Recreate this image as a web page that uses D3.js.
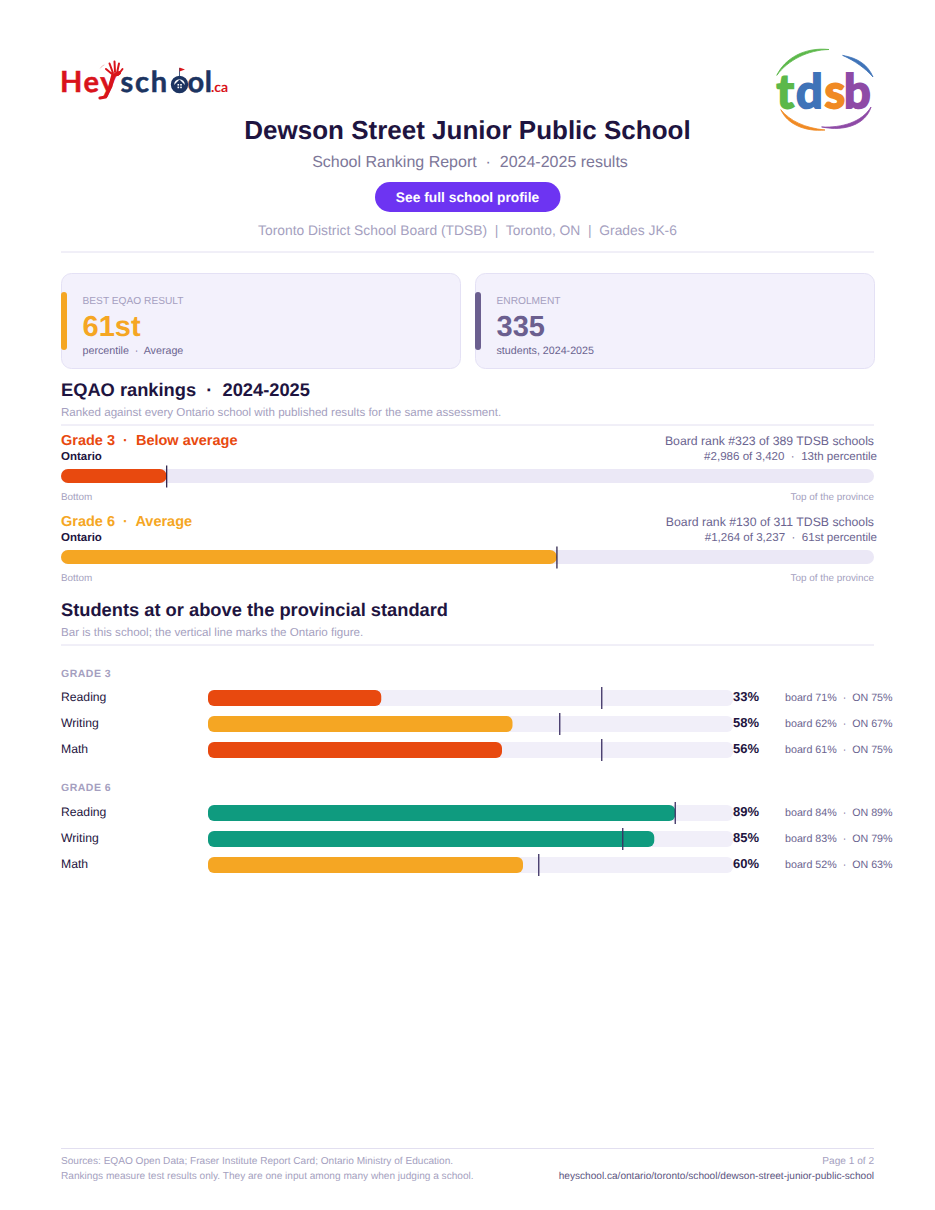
<!DOCTYPE html>
<html><head><meta charset="utf-8">
<script src="https://cdn.jsdelivr.net/npm/d3@7"></script>
<style>html,body{margin:0;padding:0;background:#fff}svg{display:block;font-family:"Liberation Sans",Arial,sans-serif;text-rendering:geometricPrecision}</style>
</head><body><div id="c"></div>
<script>
const schoolName="Dewson Street Junior Public School";
const rankGrades=["Grade 3","Grade 6"];
const rankBands=["Below average","Average"];
const rankPercentiles=[13,61];
const rankBoard=["Board rank #323 of 389 TDSB schools","Board rank #130 of 311 TDSB schools"];
const rankProvince=["#2,986 of 3,420  ·  13th percentile","#1,264 of 3,237  ·  61st percentile"];
const subjects=["Reading","Writing","Math"];
const grade3School=[33,58,56];
const grade3Board=[71,62,61];
const grade3Ontario=[75,67,75];
const grade6School=[89,85,60];
const grade6Board=[84,83,52];
const grade6Ontario=[89,79,63];

const RED="#e8490f",AMB="#f5a623",GRN="#0f9b7f",INK="#1e1440",MUT="#a59fc0",MID="#6b6490",RULE="#e2dff0";
const svg=d3.select("#c").append("svg").attr("width",935).attr("height",1210);
function T(x,y,s,size,fill,o={}){return svg.append("text").attr("x",x).attr("y",y).text(s)
  .attr("font-size",size).attr("fill",fill).attr("font-weight",o.w||"normal").attr("text-anchor",o.a||"start")
  .style("white-space","pre").attr("font-family",o.f||null).attr("letter-spacing",o.ls||null);}
function R(x,y,w,h,r,fill,st){const e=svg.append("rect").attr("x",x).attr("y",y).attr("width",w).attr("height",h).attr("rx",r).attr("fill",fill);
  if(st)e.attr("stroke",st);return e;}
function L(x1,y1,x2,y2,c,w){svg.append("line").attr("x1",x1).attr("y1",y1).attr("x2",x2).attr("y2",y2).attr("stroke",c).attr("stroke-width",w);}
function P(d,o){const e=svg.append("path").attr("d",d).attr("fill",o.fill||"none");if(o.stroke)e.attr("stroke",o.stroke).attr("stroke-width",o.w).attr("stroke-linecap","round").attr("stroke-linejoin","round");return e;}

/* HeySchool logo */
const NAVY="#1c3461",HRED="#d9141b";
function logoT(x,s,c,ls){T(x,92,s,29,c,{w:"bold",f:"Lato",ls:ls}).attr("stroke",c).attr("stroke-width",.5);}
logoT(60,"Hey",HRED,"1.6");
logoT(120.5,"sch",NAVY,"1.8");
logoT(187.5,"ol",NAVY,"0.6");
T(211,92,".ca",14,HRED,{f:"Lato",w:"bold"});
svg.append("circle").attr("cx",179.5).attr("cy",84.5).attr("r",7).attr("fill","none").attr("stroke",NAVY).attr("stroke-width",3.4);
P("M174 85 L179.5 79.5 L185 85 L185 90 L174 90 Z",{fill:NAVY});
R(177.5,84,1.6,1.6,0,"#fff");R(180.2,84,1.6,1.6,0,"#fff");R(177.5,86.6,1.6,1.6,0,"#fff");R(180.2,86.6,1.6,1.6,0,"#fff");
L(179.5,79,179.5,68,NAVY,.8);
P("M179.5 67.5 L185 69.5 L179.5 71.5 Z",{fill:HRED});
P("M111 86 L105.5 97 L100 98",{stroke:HRED,w:3.2});
P("M111 84 L113 76 L119 73",{stroke:HRED,w:4});
P("M112 74 L106 69 M113 73 L109.5 63.5 M115 72 L114.5 61.5 M117 73 L119 63.5 M118 75 L122.5 69",{stroke:HRED,w:2});
P("M100.5 68 Q102 65.5 104 65",{stroke:"#e8a0a0",w:.7});

/* TDSB logo */
const logoY=107.5;
[["t",776.5,"#5cb84a"],["d",796,"#3f73b8"],["s",824.5,"#f08a24"],["b",844,"#8e4aa6"]].forEach(d=>{
  T(d[1],logoY,d[0],47,d[2],{w:"bold",f:"Lato"}).attr("stroke",d[2]).attr("stroke-width",2);
});
P("M777 75 C785 58 805 47 829 49.5 C808 50 788 60 777 75 Z",{fill:"#5cb84a",stroke:"#5cb84a",w:.8});
P("M843 55.5 C858 58 868 65 873 77 C865 68 855 61 843 55.5 Z",{fill:"#3f73b8",stroke:"#3f73b8",w:.8});
P("M781 110 C790 121 805 128 825 130 C805 132 787 124 781 110 Z",{fill:"#f08a24",stroke:"#f08a24",w:.8});
P("M822 127 C842 128 862 122 871 107 C866 124 845 132 822 127 Z",{fill:"#8e4aa6",stroke:"#8e4aa6",w:.8});

/* Header */
T(467.5,139,schoolName,26,INK,{w:"bold",a:"middle"});
T(470,167,"School Ranking Report  ·  2024-2025 results",16,"#7d7799",{a:"middle"});
R(375,182,185.5,30,15,"#6d34f2");
T(467.5,202,"See full school profile",13.8,"#fff",{w:"bold",a:"middle"});
T(467.5,235,"Toronto District School Board (TDSB)  |  Toronto, ON  |  Grades JK-6",13.83,MUT,{a:"middle"});
L(61,252,874,252,RULE,1);

/* Cards */
function card(x,w,col,lab,val,sub){
  R(x+.5,273.5,w,95,10,"#f3f1fc","#e4e1f5");
  R(x,292,6,58,3,col);
  T(x+21.5,304,lab,10.2,MUT);
  T(x+21.5,336,val,29,col,{w:"bold"});
  T(x+21.5,354,sub,10.7,MID);
}
card(61,399,AMB,"BEST EQAO RESULT","61st","percentile  ·  Average");
card(475,399,"#6b5f8f","ENROLMENT","335","students, 2024-2025");

/* Rankings */
T(61,396,"EQAO rankings  ·  2024-2025",18.3,INK,{w:"bold"});
T(61,416,"Ranked against every Ontario school with published results for the same assessment.",11.6,MUT);
L(61,425,874,425,RULE,1);
const xRank=d3.scaleLinear().domain([0,100]).range([61,874]);
const rankCols=[RED,AMB];
rankGrades.forEach((g,i)=>{
  const dy=i*81;
  T(61,445+dy,g+"  ·  "+rankBands[i],14.5,rankCols[i],{w:"bold"});
  T(61,460+dy,"Ontario",11.5,INK,{w:"bold"});
  T(874,445+dy,rankBoard[i],12.27,MID,{a:"end"});
  T(877,460+dy,rankProvince[i],11.57,MID,{a:"end"});
  R(xRank(0),469+dy,xRank(100)-xRank(0),14,7,"#ebe8f6");
  R(xRank(0),469+dy,xRank(rankPercentiles[i])-xRank(0),14,7,rankCols[i]);
  L(xRank(rankPercentiles[i]),465.5+dy,xRank(rankPercentiles[i]),487.5+dy,INK,1.2);
  T(61,500+dy,"Bottom",9.9,MUT);
  T(874,500+dy,"Top of the province",9.9,MUT,{a:"end"});
});

/* Standards */
T(61,616,"Students at or above the provincial standard",18.3,INK,{w:"bold"});
T(61,636,"Bar is this school; the vertical line marks the Ontario figure.",11.6,MUT);
L(61,645,874,645,RULE,1);
const xPct=d3.scaleLinear().domain([0,100]).range([208,733]);
function group(title,y0,yRow,school,board,on,cols){
  T(61,y0,title,10.5,MUT,{w:"bold",ls:"0.5"});
  subjects.forEach((s,i)=>{
    const y=yRow+i*26;
    T(61,y+3,s,12.2,INK);
    R(xPct(0),y-8,xPct(100)-xPct(0),16,6,"#f1eff9");
    R(xPct(0),y-8,xPct(school[i])-xPct(0),16,6,cols[i]);
    L(xPct(on[i]),y-11,xPct(on[i]),y+11,"#3b2f63",1.3);
    T(733,y+3.2,school[i]+"%",13,INK,{w:"bold"});
    T(785,y+3.4,"board "+board[i]+"%  ·  ON "+on[i]+"%",10.7,MID);
  });
}
group("GRADE 3",677,698,grade3School,grade3Board,grade3Ontario,[RED,AMB,RED]);
group("GRADE 6",791,813,grade6School,grade6Board,grade6Ontario,[GRN,GRN,AMB]);

/* Footer */
L(61,1148.5,874,1148.5,RULE,1);
T(61,1164,"Sources: EQAO Open Data; Fraser Institute Report Card; Ontario Ministry of Education.",10.1,MUT);
T(61,1179,"Rankings measure test results only. They are one input among many when judging a school.",10.1,MUT);
T(874,1164,"Page 1 of 2",10.1,MUT,{a:"end"});
T(874,1179,"heyschool.ca/ontario/toronto/school/dewson-street-junior-public-school",10.1,"#5b5480",{a:"end"});
</script></body></html>
